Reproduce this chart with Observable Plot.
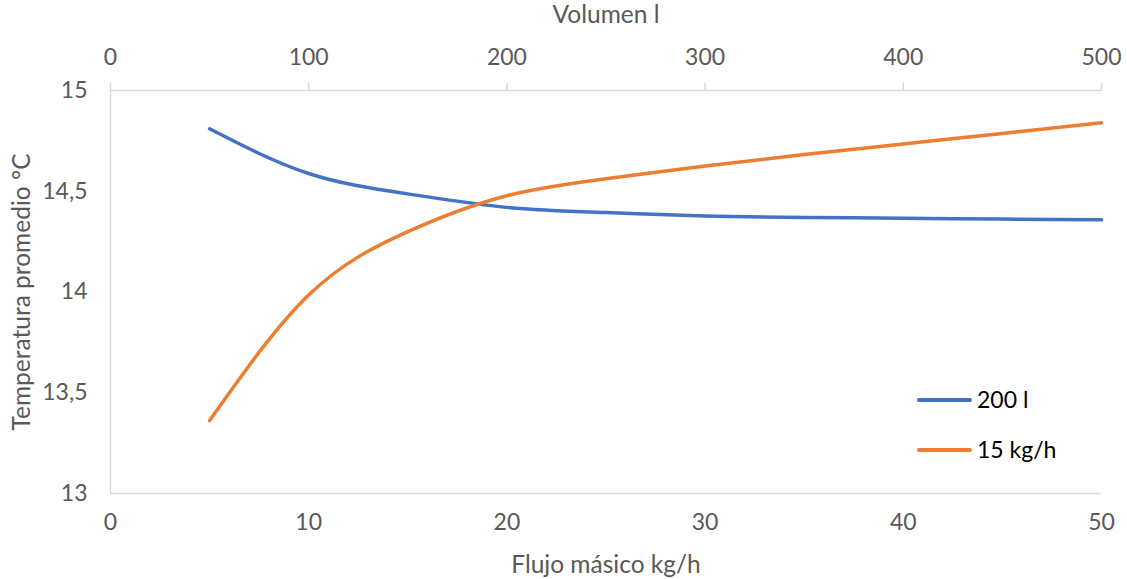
<!DOCTYPE html>
<html><head><meta charset="utf-8">
<script src="https://cdn.jsdelivr.net/npm/d3@7"></script>
<script src="https://cdn.jsdelivr.net/npm/@observablehq/plot@0.6"></script>
<style>
body{margin:0;background:#fff;font-family:Lato,sans-serif}
#wrap{position:relative;width:1127px;height:579px;overflow:hidden}
.leg{position:absolute;display:flex;align-items:center;font-family:Lato,sans-serif;font-size:23px;color:#000;line-height:1}
.leg span.sw{display:inline-block;width:55px;height:4px;border-radius:2px;margin-right:5px}
</style></head><body><div id="wrap"></div>
<script>
// Data
const flujo = [5, 10, 15, 20, 25, 30, 35, 40, 45, 50];              // kg/h (bottom axis)
const temp200l = [14.81, 14.588, 14.487, 14.42, 14.394, 14.377, 14.37, 14.366, 14.362, 14.358];
const volumen = [50, 100, 150, 200, 250, 300, 350, 400, 450, 500];   // l (top axis)
const temp15kgh = [13.362, 13.985, 14.3, 14.478, 14.562, 14.625, 14.682, 14.735, 14.787, 14.84];
const yTicks = [13, 13.5, 14, 14.5, 15];
const flujoTicks = [0, 10, 20, 30, 40, 50];
const volumenTicks = [0, 100, 200, 300, 400, 500];
const seriesNames = ["200 l", "15 kg/h"];
const seriesColors = ["#4472C4", "#ED7D31"];

const blue = flujo.map((f, i) => ({x: f, y: temp200l[i]}));
const orange = volumen.map((v, i) => ({x: v / 10, y: temp15kgh[i]}));
const grid = "#d9d9d9";

const chart = Plot.plot({
  width: 1127, height: 579,
  marginLeft: 110, marginRight: 26, marginTop: 90, marginBottom: 86,
  style: {fontFamily: "Lato, sans-serif", fontSize: "23px", color: "#595959", background: "#fff", overflow: "visible"},
  x: {domain: [0, 50]},
  y: {domain: [13, 15]},
  marks: [
    Plot.ruleY([13], {stroke: grid, strokeWidth: 1.5}),
    Plot.ruleY([15], {stroke: grid, strokeWidth: 1.5}),
    Plot.ruleX([0], {stroke: grid, strokeWidth: 1.5}),
    Plot.axisX({anchor: "bottom", ticks: flujoTicks, tickSize: 0, tickPadding: 20, label: null}),
    Plot.axisX({anchor: "bottom", ticks: [], label: "Flujo másico kg/h", labelAnchor: "center", labelOffset: 79, labelArrow: "none", fontSize: 24.5}),
    Plot.axisX({anchor: "top", ticks: volumenTicks.map(v => v / 10), tickFormat: d => String(Math.round(d * 10)),
      tickSize: 8, tickPadding: 18, stroke: grid, strokeWidth: 1.5, label: null}),
    Plot.axisX({anchor: "top", ticks: [], label: "Volumen l", labelAnchor: "center", labelOffset: 85, labelArrow: "none", fontSize: 24.5}),
    Plot.axisY({ticks: yTicks, tickSize: 0, tickPadding: 23, tickFormat: d => String(d).replace(".", ","), label: null}),
    Plot.axisY({ticks: [], label: "Temperatura promedio °C", labelAnchor: "center", labelOffset: 98, labelArrow: "none", fontSize: 24.5}),
    Plot.line(blue, {x: "x", y: "y", curve: "natural", stroke: seriesColors[0], strokeWidth: 3.5, strokeLinecap: "round"}),
    Plot.line(orange, {x: "x", y: "y", curve: "natural", stroke: seriesColors[1], strokeWidth: 3.5, strokeLinecap: "round"})
  ]
});
const wrap = document.getElementById("wrap");
wrap.appendChild(chart);
// Legend (HTML, inside plot area)
const legTops = [400, 450];
seriesNames.forEach((n, i) => {
  const d = document.createElement("div");
  d.className = "leg";
  d.style.left = "917px";
  d.style.top = (legTops[i] - 12) + "px";
  d.innerHTML = `<span class="sw" style="background:${seriesColors[i]}"></span>${n}`;
  wrap.appendChild(d);
});
</script>
</body></html>
